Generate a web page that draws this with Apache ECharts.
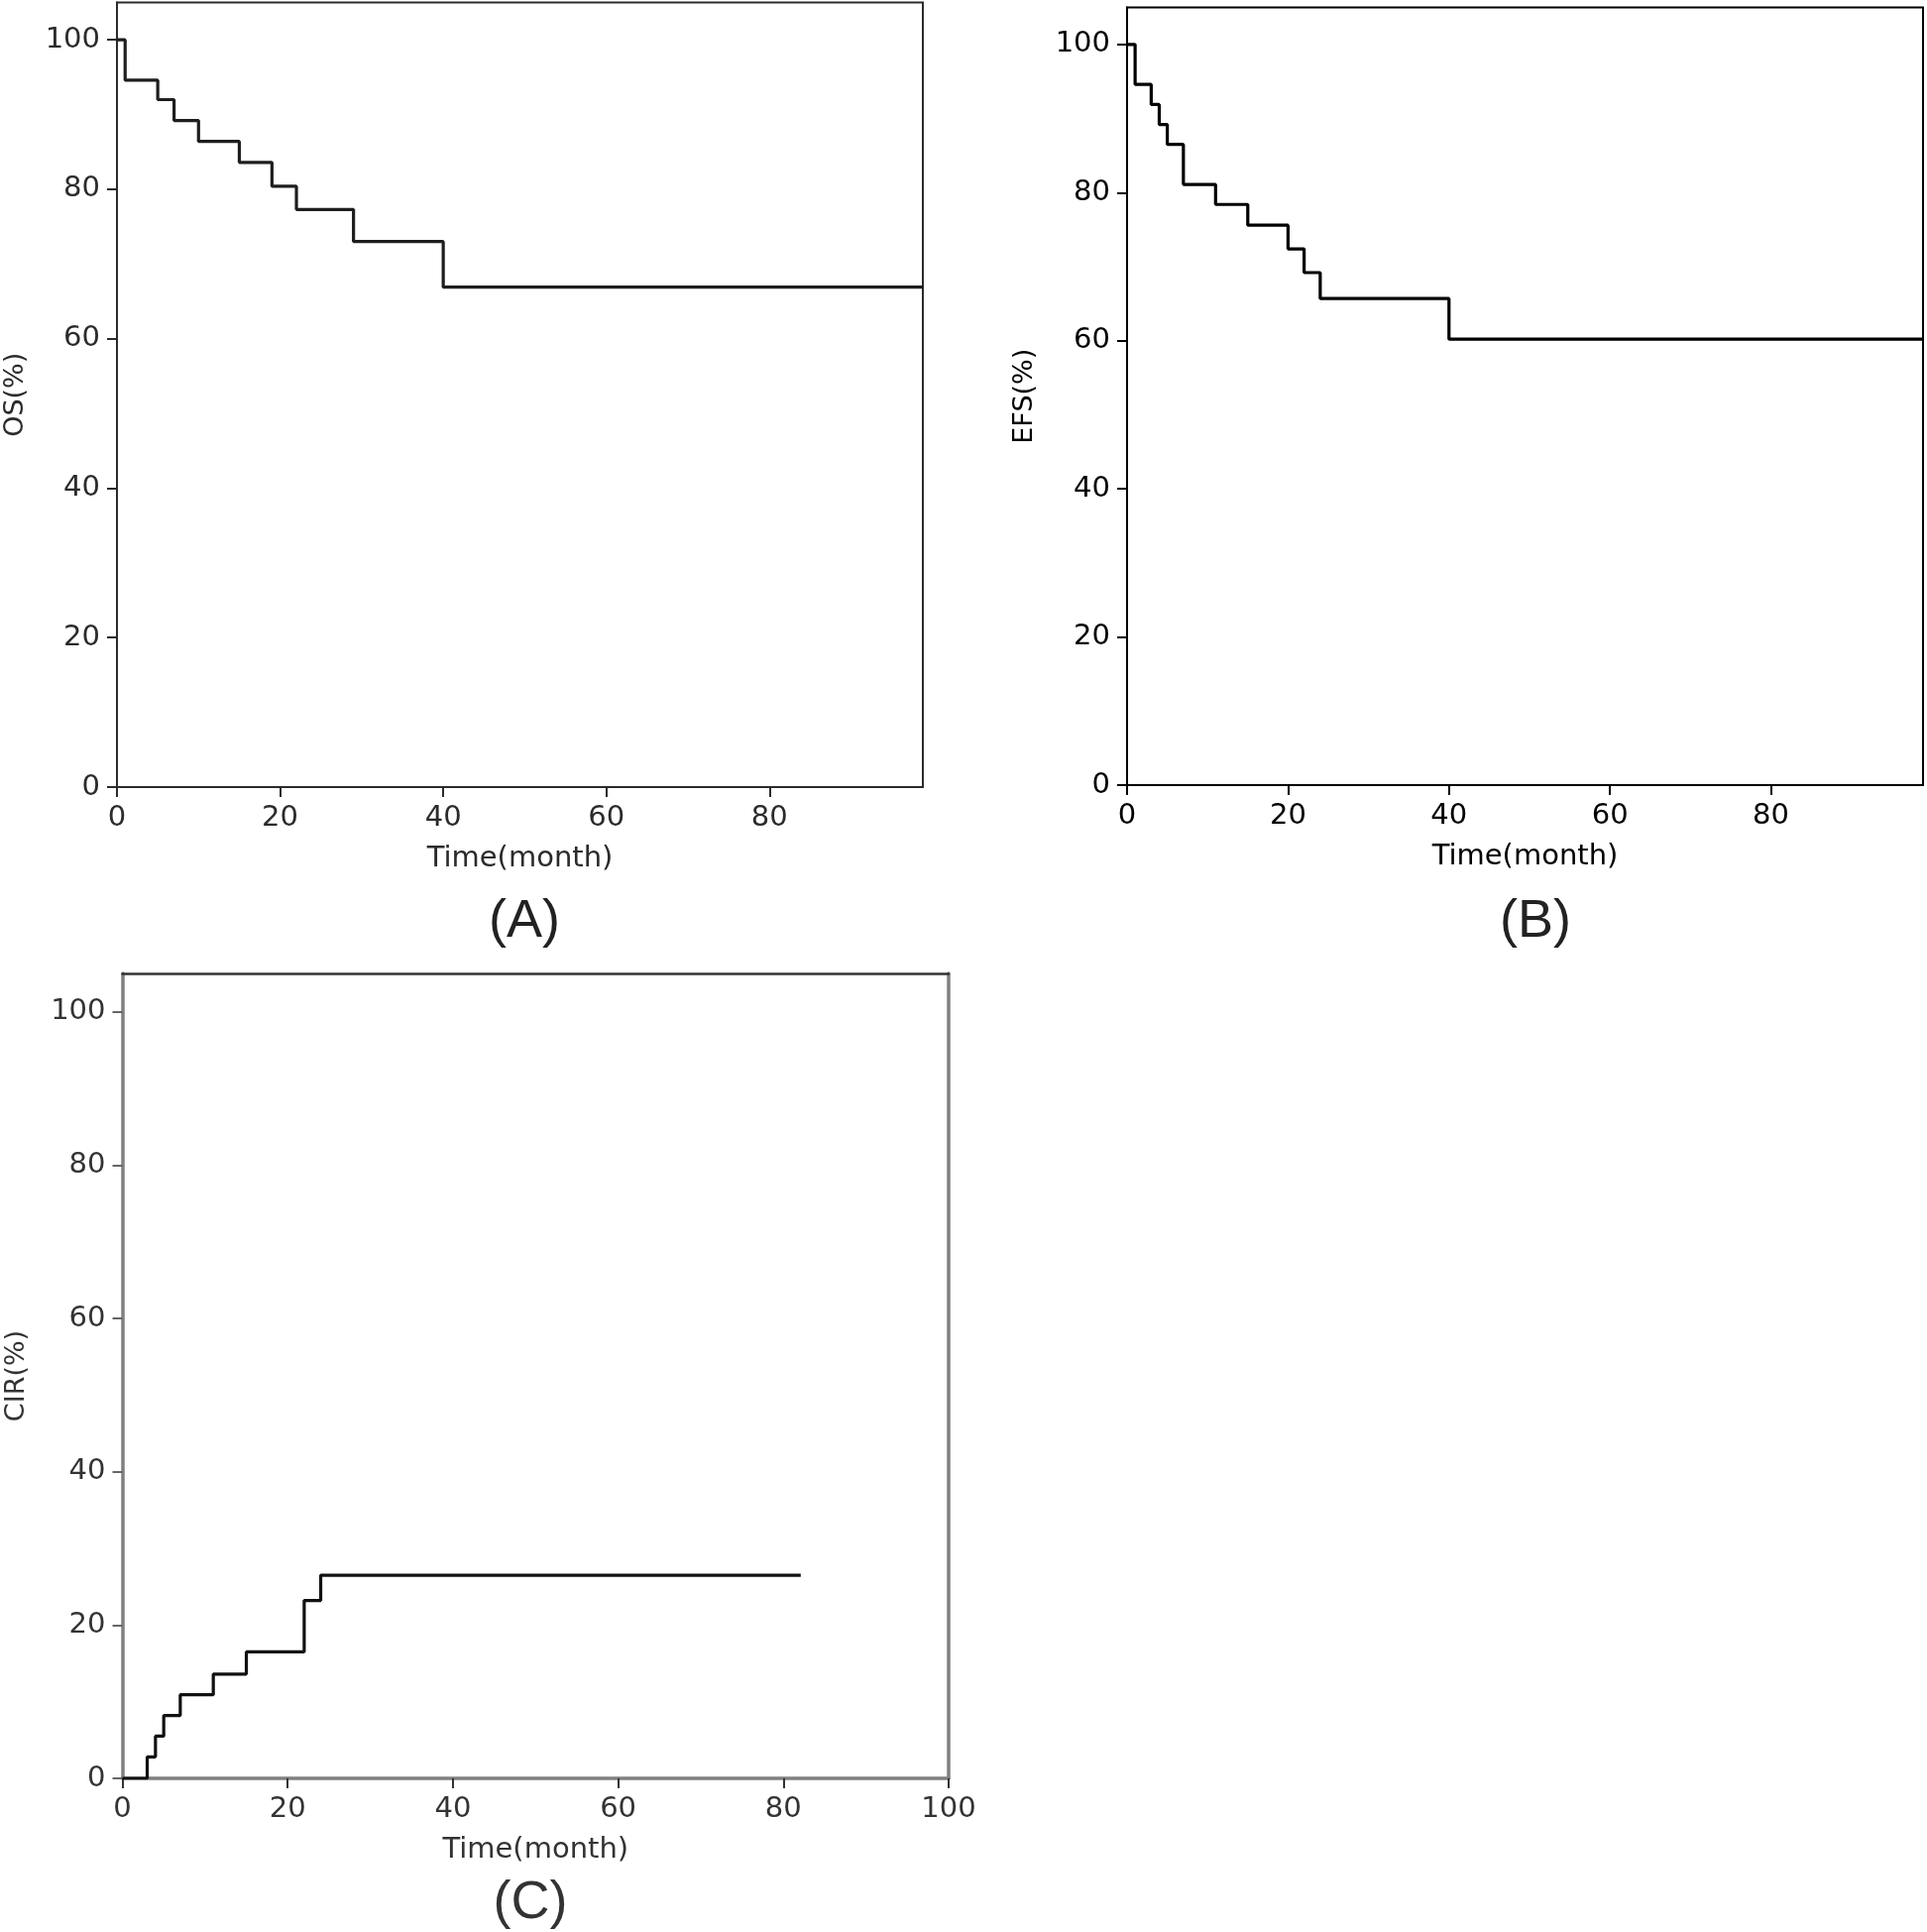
<!DOCTYPE html>
<html>
<head>
<meta charset="utf-8">
<script src="https://cdn.jsdelivr.net/npm/echarts@6/dist/echarts.min.js"></script>
<style>
html,body{margin:0;padding:0;background:#fff;}
#c{width:1944px;height:1949px;}
</style>
</head>
<body>
<div id="c"></div>
<script>
// ---- data ----
const osTime   = [0, 1, 5, 7, 10, 15, 19, 22, 29, 40, 98.8];
const osValue  = [100, 94.6, 92.0, 89.2, 86.4, 83.6, 80.4, 77.3, 73.0, 66.9, 66.9];
const efsTime  = [0, 1, 3, 4, 5, 7, 11, 15, 20, 22, 24, 40, 98.9];
const efsValue = [100, 94.6, 91.9, 89.2, 86.5, 81.1, 78.4, 75.6, 72.4, 69.2, 65.7, 60.2, 60.2];
const cirTime  = [0, 3, 4, 5, 7, 11, 15, 22, 24, 82.1];
const cirValue = [0, 2.8, 5.5, 8.2, 10.9, 13.6, 16.5, 23.2, 26.5, 26.5];
const yTicks   = [0, 20, 40, 60, 80, 100];
const xTicksAB = [0, 20, 40, 60, 80];
const xTicksC  = [0, 20, 40, 60, 80, 100];
const panelLabels = ['(A)', '(B)', '(C)'];
const yNames = ['OS(%)', 'EFS(%)', 'CIR(%)'];
const xName = 'Time(month)';

const zip = (a, b) => a.map((v, i) => [v, b[i]]);
const FONT = 'DejaVu Sans';
const FS = 29;

function xAxisCfg(grid, max, ticks, lineCol, textCol, w) {
  return {
    type: 'value', gridIndex: grid, min: 0, max: max, interval: 20,
    name: xName, nameLocation: 'middle', nameGap: 58,
    nameTextStyle: {fontFamily: FONT, fontSize: FS, color: textCol},
    axisLine: {show: true, onZero: false, lineStyle: {color: lineCol, width: w}},
    axisTick: {show: true, inside: false, length: 10, lineStyle: {color: textCol, width: 2}, customValues: ticks},
    axisLabel: {fontFamily: FONT, fontSize: FS, color: textCol, margin: 17, customValues: ticks},
    splitLine: {show: false}
  };
}
function yAxisCfg(grid, name, lineCol, textCol, w, gap) {
  return {
    type: 'value', gridIndex: grid, min: 0, max: 105, interval: 20,
    name: name, nameLocation: 'middle', nameGap: gap, nameRotate: 90,
    nameTextStyle: {fontFamily: FONT, fontSize: 27, color: textCol},
    axisLine: {show: true, onZero: false, lineStyle: {color: lineCol, width: w}},
    axisTick: {show: true, inside: false, length: 10, lineStyle: {color: lineCol === '#808080' ? '#666' : lineCol, width: 2}, customValues: yTicks},
    axisLabel: {fontFamily: FONT, fontSize: FS, color: textCol, margin: 17, customValues: yTicks},
    splitLine: {show: false}
  };
}
function frameAxis(kind, grid, pos, col, w, max) {
  return {type: 'value', gridIndex: grid, position: pos, min: 0, max: max,
    axisLine: {show: true, onZero: false, lineStyle: {color: col, width: w}},
    axisTick: {show: false}, axisLabel: {show: false}, splitLine: {show: false}};
}

const chart = echarts.init(document.getElementById('c'), null, {renderer: 'canvas'});
chart.setOption({
  animation: false,
  backgroundColor: '#fff',
  grid: [
    {left: 118, top: 2.5, width: 813, height: 791.5, show: true, borderColor: '#2b2b2b', borderWidth: 2, containLabel: false},
    {left: 1137, top: 7.5, width: 803, height: 784.5, show: true, borderColor: '#000', borderWidth: 2, containLabel: false},
    {left: 123.5, top: 982, width: 833.5, height: 812, show: false, containLabel: false}
  ],
  xAxis: [
    xAxisCfg(0, osTime[osTime.length - 1], xTicksAB, '#2b2b2b', '#2b2b2b', 2),
    xAxisCfg(1, efsTime[efsTime.length - 1], xTicksAB, '#000', '#000', 2),
    xAxisCfg(2, 100, xTicksC, '#808080', '#333', 3.5),
    frameAxis('x', 2, 'top', '#333', 2.5, 100)
  ],
  yAxis: [
    yAxisCfg(0, yNames[0], '#2b2b2b', '#2b2b2b', 2, 89),
    yAxisCfg(1, yNames[1], '#000', '#000', 2, 90),
    yAxisCfg(2, yNames[2], '#808080', '#333', 3.5, 93),
    frameAxis('y', 2, 'right', '#808080', 3.5, 105)
  ],
  series: [
    {type: 'line', xAxisIndex: 0, yAxisIndex: 0, step: 'end', showSymbol: false, symbol: 'none',
     lineStyle: {color: '#1e1e1e', width: 3.2}, data: zip(osTime, osValue)},
    {type: 'line', xAxisIndex: 1, yAxisIndex: 1, step: 'end', showSymbol: false, symbol: 'none',
     lineStyle: {color: '#000', width: 3.2}, data: zip(efsTime, efsValue)},
    {type: 'line', xAxisIndex: 2, yAxisIndex: 2, step: 'end', showSymbol: false, symbol: 'none',
     lineStyle: {color: '#111', width: 3.2}, data: zip(cirTime, cirValue)}
  ],
  graphic: [
    {type: 'text', x: 529, y: 930, style: {text: panelLabels[0], font: '54px "Liberation Sans"', fill: '#222', align: 'center', verticalAlign: 'middle'}},
    {type: 'text', x: 1549, y: 930, style: {text: panelLabels[1], font: '54px "Liberation Sans"', fill: '#222', align: 'center', verticalAlign: 'middle'}},
    {type: 'text', x: 535, y: 1920, style: {text: panelLabels[2], font: '54px "Liberation Sans"', fill: '#333', align: 'center', verticalAlign: 'middle'}}
  ]
});
</script>
</body>
</html>
